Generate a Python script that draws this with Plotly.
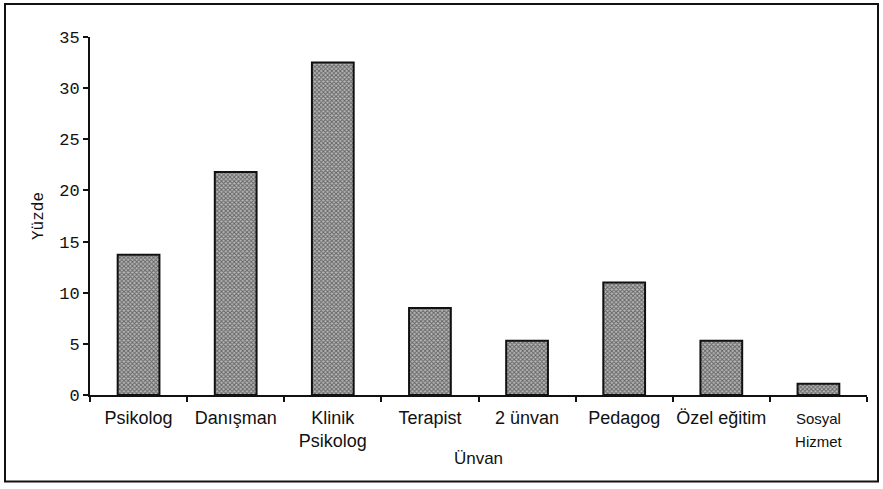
import plotly.graph_objects as go

categories = ["Psikolog", "Danışman", "Klinik Psikolog", "Terapist", "2 ünvan",
              "Pedagog", "Özel eğitim", "Sosyal Hizmet"]
tick_labels = ["Psikolog", "Danışman", "Klinik<br>Psikolog", "Terapist", "2 ünvan",
               "Pedagog", "Özel eğitim",
               "<span style='font-size:15px'>Sosyal<br>Hizmet</span>"]
values = [13.7, 21.8, 32.5, 8.5, 5.3, 11.0, 5.3, 1.1]
y_ticks = [0, 5, 10, 15, 20, 25, 30, 35]

W, H = 883, 489
L, R, T, B = 90, 16, 37, 93.5
pw, ph = W - L - R, H - T - B

fig = go.Figure()
fig.add_trace(go.Bar(
    x=categories, y=values, width=0.43,
    marker=dict(color="#909090",
                line=dict(color="#111", width=2),
                pattern=dict(shape="x", size=3, solidity=0.55,
                             fgcolor="#111", bgcolor="#b8b8b8", fillmode="overlay")),
    hoverinfo="skip",
))

def px_x(x):
    return (x - L) / pw
def px_y(y):
    return (H - B - y) / ph

fig.add_shape(type="rect", xref="paper", yref="paper",
              x0=px_x(5), x1=px_x(878), y0=px_y(482), y1=px_y(4),
              line=dict(color="#111", width=2))

fig.update_layout(
    width=W, height=H, margin=dict(l=L, r=R, t=T, b=B, autoexpand=False),
    plot_bgcolor="white", paper_bgcolor="white", showlegend=False,
    xaxis=dict(tickvals=categories, ticktext=tick_labels, tickson="boundaries",
               tickangle=0, ticklabelstandoff=5,
               ticks="outside", ticklen=5, tickcolor="#111", tickwidth=2,
               showline=True, linecolor="#111", linewidth=2,
               tickfont=dict(family="Liberation Sans, Arial", size=18, color="#111"),
               title=dict(text="Ünvan", standoff=2,
                          font=dict(family="Liberation Sans, Arial", size=17, color="#111")),
               showgrid=False, zeroline=False),
    yaxis=dict(range=[0, 35], tickvals=y_ticks, ticks="outside", ticklen=5,
               tickcolor="#111", tickwidth=2,
               showline=True, linecolor="#111", linewidth=2,
               tickfont=dict(family="Liberation Mono, Courier New", size=17, color="#111"),
               title=dict(text="Yüzde", standoff=12,
                          font=dict(family="Liberation Mono, Courier New", size=16, color="#111")),
               showgrid=False, zeroline=False),
)

fig.write_html("out.html", config={"displayModeBar": False},
               post_script="document.body.style.margin='0';document.body.style.overflow='hidden';")
